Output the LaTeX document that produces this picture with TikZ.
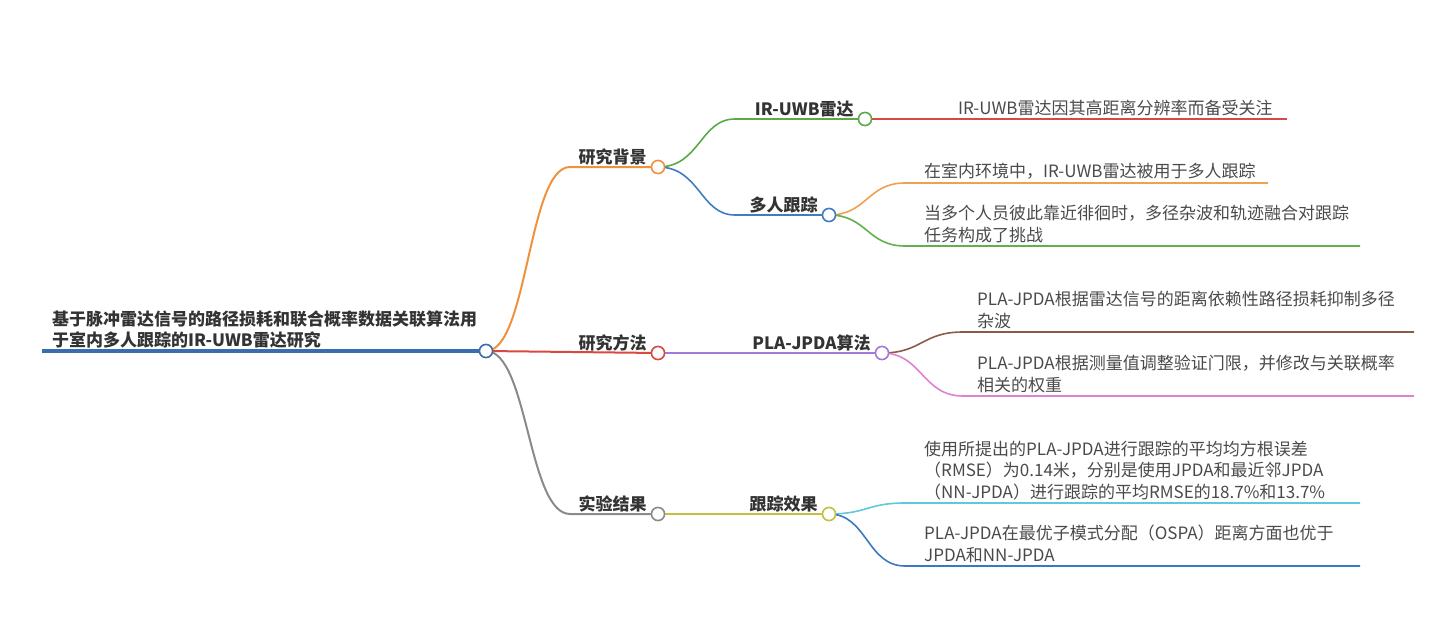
\documentclass[tikz,border=0pt]{standalone}
\usepackage{fontspec}
\setmainfont{Noto Sans CJK SC}
\newfontfamily\cjk{Noto Sans CJK SC}
\definecolor{cRoot}{HTML}{3A6DB0}
\definecolor{cOrange}{HTML}{F0913E}
\definecolor{cRed}{HTML}{D9473F}
\definecolor{cGray}{HTML}{8A8A8A}
\definecolor{cGreen}{HTML}{5BAA47}
\definecolor{cBlue}{HTML}{3F7CC0}
\definecolor{cLRed}{HTML}{D94848}
\definecolor{cLOrange}{HTML}{F0A050}
\definecolor{cLGreen}{HTML}{60B050}
\definecolor{cPurple}{HTML}{A07AD8}
\definecolor{cBrown}{HTML}{8B5A4B}
\definecolor{cPink}{HTML}{E080D0}
\definecolor{cYG}{HTML}{C2C23E}
\definecolor{cCyan}{HTML}{60C8D8}
\definecolor{cLBlue}{HTML}{3A78C0}
\definecolor{cText}{HTML}{333333}
\definecolor{cLeaf}{HTML}{4A4A4A}
\tikzset{
  dot/.style={circle, draw=#1, fill=white, line width=1.5pt, minimum size=13pt, inner sep=0pt},
  lab/.style={anchor=south east, inner sep=0pt, text=cText, font=\cjk\bfseries\fontsize{17}{21}\selectfont},
  leaf/.style={anchor=south west, inner sep=0pt, align=left, text=cLeaf, font=\cjk\fontsize{17}{21.5}\selectfont},
  conn/.style={draw=#1, line width=1.6pt},
  conn1/.style={draw=#1, line width=2pt},
}
\begin{document}
\begin{tikzpicture}[x=1pt,y=-1pt]
\useasboundingbox (0,0) rectangle (1436,626);
% root
\coordinate (r0) at (42,351);
\node[dot=cRoot] (root) at (486,351) {};
\node[anchor=south west, inner sep=0pt, align=left, text=cText, font=\cjk\bfseries\fontsize{17}{21}\selectfont] (title) at (52,348) {基于脉冲雷达信号的路径损耗和联合概率数据关联算法用\\于室内多人跟踪的IR-UWB雷达研究};
% level 1 dots
\node[dot=cOrange] (b1) at (658,167) {};
\node[dot=cRed] (b2) at (658,353) {};
\node[dot=cGray] (b3) at (658,514) {};
\coordinate (b1s) at (570,167);
\coordinate (b3s) at (570,514);
% level 2 dots
\node[dot=cGreen] (c1) at (865,119) {};
\node[dot=cBlue] (c2) at (829,215) {};
\node[dot=cPurple] (c3) at (882,353) {};
\node[dot=cYG] (c4) at (829,514) {};
\coordinate (c1s) at (735,119);
\coordinate (c2s) at (735,215);
% leaf coordinates
\coordinate (l1e) at (1287,119);
\coordinate (l2s) at (905,183); \coordinate (l2e) at (1268,183);
\coordinate (l3s) at (905,246); \coordinate (l3e) at (1360,246);
\coordinate (l4s) at (963,332); \coordinate (l4e) at (1414,332);
\coordinate (l5s) at (963,396); \coordinate (l5e) at (1414,396);
\coordinate (l6s) at (905,503); \coordinate (l6e) at (1360,503);
\coordinate (l7s) at (905,566); \coordinate (l7e) at (1360,566);

% root line
\draw[cRoot, line width=4pt] (r0) -- (root.west);
% root to level 1
\draw[conn1=cOrange] (root.center) .. controls (528,351) and (528,167) .. (b1s) -- (b1.center);
\draw[conn1=cRed] (root.center) -- (b2.center);
\draw[conn1=cGray] (root.center) .. controls (528,351) and (528,514) .. (b3s) -- (b3.center);
% level 1 to level 2
\draw[conn=cGreen] (b1.center) .. controls (700,167) and (700,119) .. (c1s) -- (c1.center);
\draw[conn=cBlue] (b1.center) .. controls (700,167) and (700,215) .. (c2s) -- (c2.center);
\draw[conn=cPurple] (b2.center) -- (c3.center);
\draw[conn=cYG] (b3.center) -- (c4.center);
% level 2 to leaves
\draw[conn=cLRed] (c1.center) -- (l1e);
\draw[conn=cLOrange] (c2.center) .. controls (867,215) and (867,183) .. (l2s) -- (l2e);
\draw[conn=cLGreen] (c2.center) .. controls (867,215) and (867,246) .. (l3s) -- (l3e);
\draw[conn=cBrown] (c3.center) .. controls (922,353) and (922,332) .. (l4s) -- (l4e);
\draw[conn=cPink] (c3.center) .. controls (922,353) and (922,396) .. (l5s) -- (l5e);
\draw[conn=cCyan] (c4.center) .. controls (867,514) and (867,503) .. (l6s) -- (l6e);
\draw[conn=cLBlue] (c4.center) .. controls (867,514) and (867,566) .. (l7s) -- (l7e);
% redraw dots on top
\node[dot=cRoot] at (root) {};
\node[dot=cOrange] at (b1) {};
\node[dot=cRed] at (b2) {};
\node[dot=cGray] at (b3) {};
\node[dot=cGreen] at (c1) {};
\node[dot=cBlue] at (c2) {};
\node[dot=cPurple] at (c3) {};
\node[dot=cYG] at (c4) {};
% labels
\node[lab] (t1) at ([xshift=-4pt,yshift=2pt]b1.west) {研究背景};
\node[lab] (t2) at ([xshift=-4pt,yshift=2pt]b2.west) {研究方法};
\node[lab] (t3) at ([xshift=-4pt,yshift=2pt]b3.west) {实验结果};
\node[lab] (u1) at ([xshift=-4pt,yshift=2pt]c1.west) {IR-UWB雷达};
\node[lab] (u2) at ([xshift=-4pt,yshift=2pt]c2.west) {多人跟踪};
\node[lab] (u3) at ([xshift=-4pt,yshift=2pt]c3.west) {PLA-JPDA算法};
\node[lab] (u4) at ([xshift=-4pt,yshift=2pt]c4.west) {跟踪效果};
% leaves text
\node[leaf] (x1) at (958,116) {IR-UWB雷达因其高距离分辨率而备受关注};
\node[leaf] (x2) at (924,180) {在室内环境中，IR-UWB雷达被用于多人跟踪};
\node[leaf] (x3) at (924,243) {当多个人员彼此靠近徘徊时，多径杂波和轨迹融合对跟踪\\任务构成了挑战};
\node[leaf] (x4) at (977,329) {PLA-JPDA根据雷达信号的距离依赖性路径损耗抑制多径\\杂波};
\node[leaf] (x5) at (977,393) {PLA-JPDA根据测量值调整验证门限，并修改与关联概率\\相关的权重};
\node[leaf] (x6) at (924,500) {使用所提出的PLA-JPDA进行跟踪的平均均方根误差\\（RMSE）为0.14米，分别是使用JPDA和最近邻JPDA\\（NN-JPDA）进行跟踪的平均RMSE的18.7\%和13.7\%};
\node[leaf] (x7) at (924,563) {PLA-JPDA在最优子模式分配（OSPA）距离方面也优于\\JPDA和NN-JPDA};
\end{tikzpicture}
\end{document}
